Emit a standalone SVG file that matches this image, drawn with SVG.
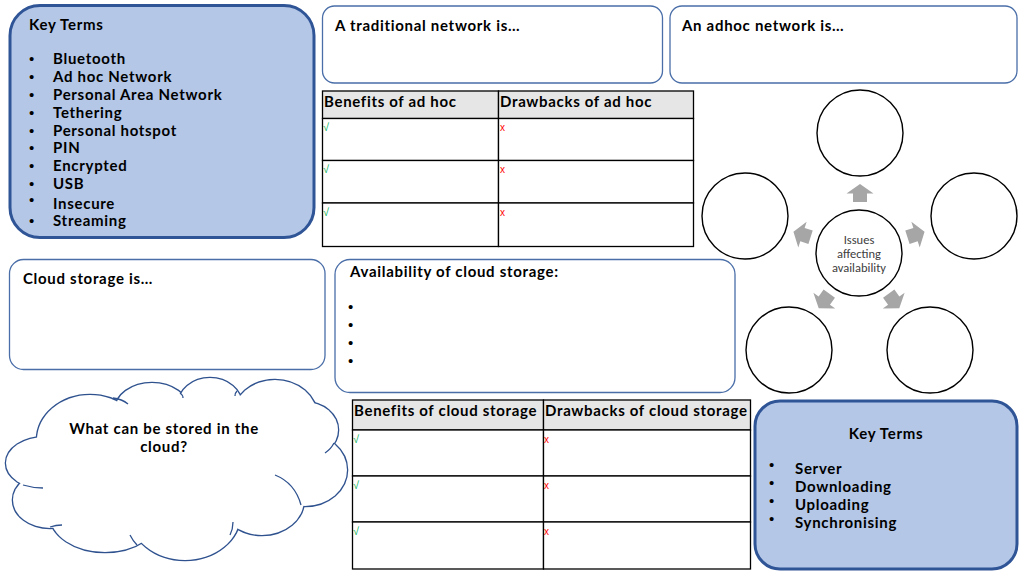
<svg xmlns="http://www.w3.org/2000/svg" width="1024" height="576" viewBox="0 0 1024 576">
<style>
.t{font-family:"Lato","DejaVu Sans",sans-serif;font-weight:bold;font-size:15px;letter-spacing:0.7px;fill:#000}
.h{font-family:"Lato","DejaVu Sans",sans-serif;font-weight:bold;font-size:15px;letter-spacing:0.68px;fill:#000}
.b{font-family:"Liberation Sans",sans-serif;font-size:15px;fill:#000}
.kt{fill:#b4c7e7;stroke:#2f5597;stroke-width:3}
.box{fill:#fff;stroke:#4a6ea8;stroke-width:1.3}
.cell{fill:#fff;stroke:#000;stroke-width:1.3}
.head{fill:#e7e6e6;stroke:#000;stroke-width:1.3}
.ok{font-family:"Liberation Sans",sans-serif;font-size:11px;fill:#00b050}
.no{font-family:"Liberation Sans",sans-serif;font-size:10px;fill:#ff0000}
.circ{fill:#fff;stroke:#000;stroke-width:1.4}
.arr{fill:#a6a6a6}
.c{font-family:"Carlito","Liberation Sans",sans-serif;font-size:12.5px;fill:#404040;text-anchor:middle}
.tuck{fill:none;stroke:#2f528f;stroke-width:1.3}
</style>
<defs>
<polygon id="arrow" class="arr" points="0,-9 13.5,0.5 7,0.5 7,9 -7,9 -7,0.5 -13.5,0.5"/>
<g id="lobes">
<ellipse cx="90" cy="440" rx="53" ry="45"/>
<ellipse cx="152" cy="410" rx="37" ry="27"/>
<ellipse cx="210" cy="405" rx="32" ry="27"/>
<ellipse cx="275" cy="416" rx="42" ry="36"/>
<ellipse cx="305" cy="430" rx="33" ry="28"/>
<ellipse cx="305" cy="470" rx="42" ry="36"/>
<ellipse cx="262" cy="500" rx="42" ry="35"/>
<ellipse cx="185" cy="515" rx="55" ry="45"/>
<ellipse cx="105" cy="515" rx="55" ry="37"/>
<ellipse cx="50" cy="500" rx="37" ry="28"/>
<ellipse cx="45" cy="463" rx="39" ry="26"/>
<ellipse cx="180" cy="465" rx="130" ry="70"/>
</g>
</defs>
<rect width="1024" height="576" fill="#fff"/>

<g id="key-terms-1">
<rect class="kt" x="10" y="5.5" width="304" height="232" rx="30"/>
<text class="t" x="29" y="30">Key Terms</text>
<g class="b">
<text x="29" y="64">•</text><text x="29" y="82">•</text><text x="29" y="100">•</text><text x="29" y="118">•</text><text x="29" y="136">•</text>
<text x="29" y="153">•</text><text x="29" y="171">•</text><text x="29" y="189">•</text><text x="29" y="205">•</text><text x="29" y="226">•</text>
</g>
<g class="t">
<text x="53" y="64">Bluetooth</text>
<text x="53" y="82">Ad hoc Network</text>
<text x="53" y="100">Personal Area Network</text>
<text x="53" y="118">Tethering</text>
<text x="53" y="136">Personal hotspot</text>
<text x="53" y="153">PIN</text>
<text x="53" y="171">Encrypted</text>
<text x="53" y="189">USB</text>
<text x="53" y="209">Insecure</text>
<text x="53" y="226">Streaming</text>
</g>
</g>

<g id="traditional-network">
<rect class="box" x="322.5" y="6" width="340" height="77" rx="12"/>
<text class="t" x="335" y="31">A traditional network is…</text>
</g>

<g id="adhoc-network">
<rect class="box" x="670" y="6" width="347" height="77" rx="12"/>
<text class="t" x="682" y="31">An adhoc network is…</text>
</g>

<g id="adhoc-table">
<rect class="head" x="322.5" y="91" width="176" height="27.5"/>
<rect class="head" x="498.5" y="91" width="195" height="27.5"/>
<rect class="cell" x="322.5" y="118.5" width="176" height="42"/>
<rect class="cell" x="498.5" y="118.5" width="195" height="42"/>
<rect class="cell" x="322.5" y="160.5" width="176" height="42.5"/>
<rect class="cell" x="498.5" y="160.5" width="195" height="42.5"/>
<rect class="cell" x="322.5" y="203" width="176" height="43.5"/>
<rect class="cell" x="498.5" y="203" width="195" height="43.5"/>
<text class="h" x="324" y="107">Benefits of ad hoc</text>
<text class="h" x="500" y="107">Drawbacks of ad hoc</text>
<text class="ok" x="323" y="131">√</text><text class="no" x="500" y="131">x</text>
<text class="ok" x="323" y="173">√</text><text class="no" x="500" y="173">x</text>
<text class="ok" x="323" y="216">√</text><text class="no" x="500" y="216">x</text>
</g>

<g id="cloud-storage-is">
<rect class="box" x="9.5" y="259.5" width="315.5" height="110" rx="14"/>
<text class="t" x="23" y="284">Cloud storage is…</text>
</g>

<g id="availability">
<rect class="box" x="335" y="259.5" width="400" height="133" rx="15"/>
<text class="t" x="350" y="277">Availability of cloud storage:</text>
<g class="b">
<text x="348" y="312">•</text>
<text x="348" y="330">•</text>
<text x="348" y="348">•</text>
<text x="348" y="366">•</text>
</g>
</g>

<g id="connectors">
<use href="#arrow" transform="translate(860,193)"/>
<use href="#arrow" transform="translate(916,234.5) rotate(72)"/>
<use href="#arrow" transform="translate(894,301) rotate(144)"/>
<use href="#arrow" transform="translate(824,301) rotate(216)"/>
<use href="#arrow" transform="translate(802,234.5) rotate(288)"/>
</g>

<g id="issue-top"><circle class="circ" cx="860" cy="133" r="43"/></g>
<g id="issue-right"><circle class="circ" cx="974" cy="216" r="43"/></g>
<g id="issue-bottom-right"><circle class="circ" cx="930" cy="350" r="43"/></g>
<g id="issue-bottom-left"><circle class="circ" cx="789" cy="350" r="43"/></g>
<g id="issue-left"><circle class="circ" cx="745" cy="216" r="43"/></g>
<g id="issues-centre">
<circle class="circ" cx="859" cy="253" r="43"/>
<text class="c" x="859" y="244">Issues</text>
<text class="c" x="859" y="258">affecting</text>
<text class="c" x="859" y="272">availability</text>
</g>

<g id="cloud">
<use href="#lobes" style="fill:#2f528f;stroke:#2f528f;stroke-width:2.6"/>
<use href="#lobes" style="fill:#fff;stroke:none"/>
<path class="tuck" d="M113,398 Q122,399 128,404"/>
<path class="tuck" d="M180,393 Q183,395 183,398"/>
<path class="tuck" d="M237,391 Q235,393 235,396"/>
<path class="tuck" d="M334,443 Q331,449 325,453"/>
<path class="tuck" d="M275,475 Q295,483 301,505"/>
<path class="tuck" d="M233,522 Q233,529 230,535"/>
<path class="tuck" d="M130,535 Q133,541 137,545"/>
<path class="tuck" d="M50,527 Q56,525 62,525"/>
<path class="tuck" d="M23,485 Q33,488 43,488"/>
<text class="t" x="164" y="434" text-anchor="middle">What can be stored in the</text>
<text class="t" x="164" y="452" text-anchor="middle">cloud?</text>
</g>

<g id="cloud-table">
<rect class="head" x="352.5" y="400" width="191" height="30"/>
<rect class="head" x="543.5" y="400" width="207" height="30"/>
<rect class="cell" x="352.5" y="430" width="191" height="46"/>
<rect class="cell" x="543.5" y="430" width="207" height="46"/>
<rect class="cell" x="352.5" y="476" width="191" height="46"/>
<rect class="cell" x="543.5" y="476" width="207" height="46"/>
<rect class="cell" x="352.5" y="522" width="191" height="47"/>
<rect class="cell" x="543.5" y="522" width="207" height="47"/>
<text class="h" x="354" y="416">Benefits of cloud storage</text>
<text class="h" x="545" y="416">Drawbacks of cloud storage</text>
<text class="ok" x="353" y="443">√</text><text class="no" x="544" y="443">x</text>
<text class="ok" x="353" y="489">√</text><text class="no" x="544" y="489">x</text>
<text class="ok" x="353" y="535">√</text><text class="no" x="544" y="535">x</text>
</g>

<g id="key-terms-2">
<rect class="kt" x="755" y="401" width="262" height="168" rx="25"/>
<text class="t" x="886" y="439" text-anchor="middle">Key Terms</text>
<g class="b">
<text x="769" y="470">•</text><text x="769" y="488">•</text><text x="769" y="506">•</text><text x="769" y="524">•</text>
</g>
<g class="t">
<text x="795" y="474">Server</text>
<text x="795" y="492">Downloading</text>
<text x="795" y="510">Uploading</text>
<text x="795" y="528">Synchronising</text>
</g>
</g>
</svg>
